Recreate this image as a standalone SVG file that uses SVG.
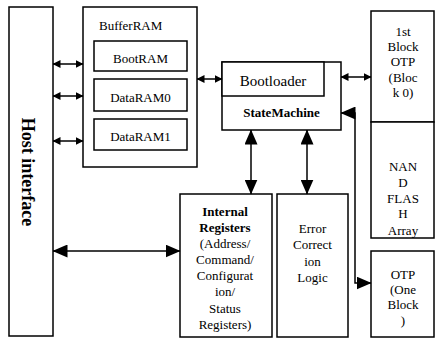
<svg xmlns="http://www.w3.org/2000/svg" width="435" height="340" viewBox="0 0 435 340">
<style>
  rect.b { fill: #fff; stroke: #000; stroke-width: 1.5; }
  text { font-family: "Liberation Serif", "Times New Roman", serif; font-size: 13px; fill: #000; }
  text.c { text-anchor: middle; }
  text.bold { font-weight: bold; }
  .conn path, .conn line, .conn polyline { fill: none; stroke: #000; stroke-width: 1.5; }
</style>
<defs>
  <marker id="s" viewBox="0 0 8 8" refX="7.5" refY="4" markerWidth="8" markerHeight="8" markerUnits="userSpaceOnUse" orient="auto-start-reverse">
    <path d="M0,0 L8,4 L0,8 z" fill="#000"/>
  </marker>
  <marker id="l" viewBox="0 0 15 13" refX="14.5" refY="6.5" markerWidth="15" markerHeight="13" markerUnits="userSpaceOnUse" orient="auto-start-reverse">
    <path d="M0,0 L15,6.5 L0,13 z" fill="#000"/>
  </marker>
</defs>
<rect width="435" height="340" fill="#fff"/>

<g id="host">
  <rect class="b" x="9" y="7" width="44" height="329"/>
  <text class="bold" style="font-size:18px" text-anchor="middle" dominant-baseline="central" transform="translate(28,172) rotate(90)">Host interface</text>
</g>

<g id="bufferram">
  <rect class="b" x="83" y="7" width="114" height="160"/>
  <text x="99" y="30">BufferRAM</text>
</g>
<g id="bootram">
  <rect class="b" x="94" y="41" width="93" height="30"/>
  <text class="c" x="140.5" y="63">BootRAM</text>
</g>
<g id="dataram0">
  <rect class="b" x="94" y="79" width="93" height="32"/>
  <text class="c" x="140.5" y="102">DataRAM0</text>
</g>
<g id="dataram1">
  <rect class="b" x="94" y="119" width="93" height="31"/>
  <text class="c" x="140.5" y="141">DataRAM1</text>
</g>

<g id="statemachine">
  <rect class="b" x="222" y="62" width="119" height="68"/>
  <text class="c bold" x="281.5" y="117">StateMachine</text>
</g>
<g id="bootloader">
  <rect class="b" x="222" y="62" width="102" height="34"/>
  <text class="c" style="font-size:15px" x="273" y="86">Bootloader</text>
</g>

<g id="otp0">
  <rect class="b" x="371" y="11" width="63" height="111"/>
  <text class="c" x="403" y="36">1st</text>
  <text class="c" x="403" y="51">Block</text>
  <text class="c" x="403" y="66">OTP</text>
  <text class="c" x="403" y="82">(Bloc</text>
  <text class="c" x="403" y="97">k 0)</text>
</g>
<g id="nand">
  <rect class="b" x="371" y="122" width="63" height="116"/>
  <text class="c" x="403" y="171">NAN</text>
  <text class="c" x="403" y="187">D</text>
  <text class="c" x="403" y="203">FLAS</text>
  <text class="c" x="403" y="218">H</text>
  <text class="c" x="403" y="235">Array</text>
</g>
<g id="otp1">
  <rect class="b" x="371" y="251" width="63" height="86"/>
  <text class="c" x="403" y="278.5">OTP</text>
  <text class="c" x="403" y="293.5">(One</text>
  <text class="c" x="403" y="308.5">Block</text>
  <text class="c" x="403" y="324.5">)</text>
</g>

<g id="registers">
  <rect class="b" x="180" y="194" width="92" height="143"/>
  <text class="c bold" x="225" y="216">Internal</text>
  <text class="c bold" x="225" y="232">Registers</text>
  <text class="c" x="225" y="248">(Address/</text>
  <text class="c" x="225" y="264">Command/</text>
  <text class="c" x="225" y="280">Configurat</text>
  <text class="c" x="225" y="296">ion/</text>
  <text class="c" x="225" y="313">Status</text>
  <text class="c" x="225" y="329">Registers)</text>
</g>
<g id="ecc">
  <rect class="b" x="277" y="194" width="71" height="143"/>
  <text class="c" x="312.5" y="233">Error</text>
  <text class="c" x="312.5" y="249">Correct</text>
  <text class="c" x="312.5" y="266">ion</text>
  <text class="c" x="312.5" y="282">Logic</text>
</g>

<g class="conn" id="connectors">
  <line x1="53" y1="64" x2="83" y2="64" marker-start="url(#s)" marker-end="url(#s)"/>
  <line x1="53" y1="96" x2="83" y2="96" marker-start="url(#s)" marker-end="url(#s)"/>
  <line x1="53" y1="141" x2="83" y2="141" marker-start="url(#s)" marker-end="url(#s)"/>
  <line x1="197" y1="79" x2="222" y2="79" marker-start="url(#s)" marker-end="url(#s)"/>
  <line x1="341" y1="77" x2="371" y2="77" marker-start="url(#s)" marker-end="url(#s)"/>
  <line x1="53" y1="251" x2="180" y2="251" marker-start="url(#l)" marker-end="url(#l)"/>
  <line x1="251" y1="130" x2="251" y2="194" marker-start="url(#l)" marker-end="url(#l)"/>
  <line x1="307" y1="130" x2="307" y2="194" marker-start="url(#l)" marker-end="url(#l)"/>
  <path d="M341,113 H355 V283 H371" marker-start="url(#l)" marker-end="url(#l)"/>
</g>
</svg>
